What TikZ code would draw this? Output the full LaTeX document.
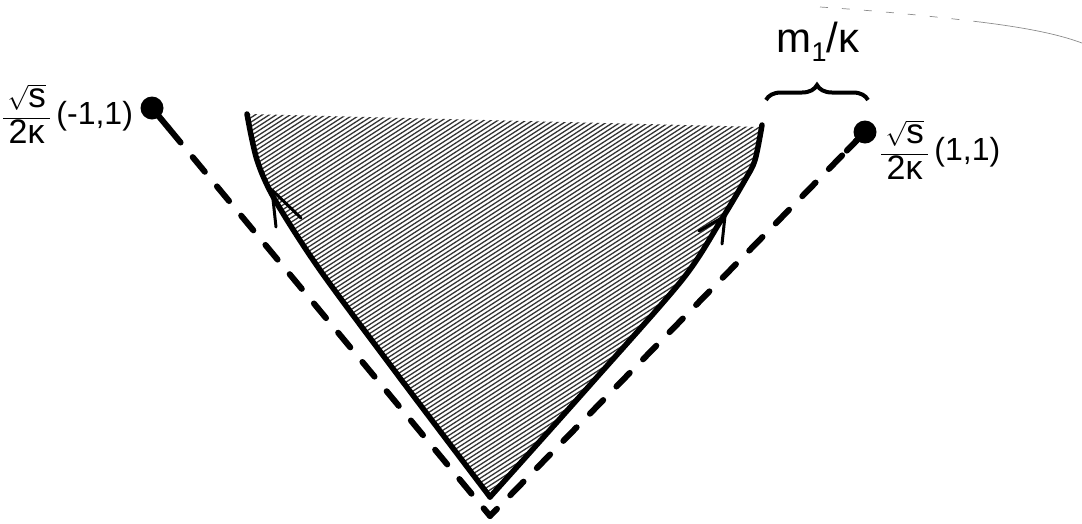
\documentclass[tikz,border=0pt]{standalone}
\usepackage{fontspec}
\setmainfont{Liberation Sans}
\usetikzlibrary{decorations.pathreplacing,calc}
\newcommand{\rootfrac}{$\displaystyle\frac{\,\sqrt{\mbox{\fontsize{35}{40}\selectfont s}}\,}{\mbox{\fontsize{34}{40}\selectfont 2κ}}$}
\begin{document}
\begin{tikzpicture}[x=1pt,y=-1pt,
  dot/.style={circle,fill=black,inner sep=0pt,minimum size=23pt},
  dashline/.style={line width=6pt,line cap=round,dash pattern=on 19pt off 19pt,dash phase=9pt},
  curve/.style={line width=5.5pt,line cap=round,line join=round},
  barb/.style={line width=3pt,line cap=round},
  lbl/.style={font=\fontsize{32}{38}\selectfont,inner sep=0pt},
  hatch/.style={black!80,line width=1.3pt},
  faint/.style={black!45,line width=0.7pt}]
\useasboundingbox (0,0) rectangle (1082,523);
% hatched region
\begin{scope}
\clip plot[smooth] coordinates {(247,114)(257,160)(275,200)(320,270)(400,378)(490,497)}
  -- plot[smooth] coordinates {(490,497)(590,385)(682,280)(720,222)(745,180)(755,160)(762,127)} -- cycle;
\foreach \k in {110,114.5,...,900} \draw[hatch] (200,\k) -- ++(620,-400);
\end{scope}
% solid curves
\draw[curve] plot[smooth] coordinates {(247,114)(257,160)(275,200)(320,270)(400,378)(490,497)};
\draw[curve] plot[smooth] coordinates {(490,497)(590,385)(682,280)(720,222)(745,180)(755,160)(762,125)};
% arrowheads
\coordinate (tl) at (272,190);
\draw[barb] (tl) -- (276,227);
\draw[barb] (tl) -- (301,218);
\coordinate (tr) at (725,216);
\draw[barb] (tr) -- (699,231);
\draw[barb] (tr) -- (722,244);
% dots and dashed lines
\node[dot] (L) at (152,108) {};
\node[dot] (R) at (865,132) {};
\coordinate (B) at (490,516);
\draw[line width=6pt,line cap=round] (L.center) -- ($(L.center)!26pt!(B)$);
\draw[line width=6pt,line cap=round] (R.center) -- ($(R.center)!26pt!(B)$);
\draw[dashline] (B) -- (L);
\draw[dashline] (B) -- (R);
% labels
\node[lbl,anchor=west] (lblL) at (2,114) {\rootfrac\,(-1,1)};
\node[lbl,anchor=west] (lblR) at (880,150) {\rootfrac\,(1,1)};
% brace
\coordinate (b1) at (766,100);
\coordinate (b2) at (868,100);
\draw[line width=4pt,decorate,decoration={brace,amplitude=15pt}] (b1) -- (b2);
\node[inner sep=0pt,font=\fontsize{42}{50}\selectfont] (mk) at (818,42) {m\raisebox{-9pt}{\fontsize{27}{30}\selectfont 1}/κ};
% faint scan line at top right
\draw[faint,dash pattern=on 8pt off 14pt] (820,7) .. controls (880,11) and (930,16) .. (980,22);
\draw[faint] (980,22) .. controls (1020,27) and (1055,33) .. (1082,43);
\end{tikzpicture}
\end{document}
